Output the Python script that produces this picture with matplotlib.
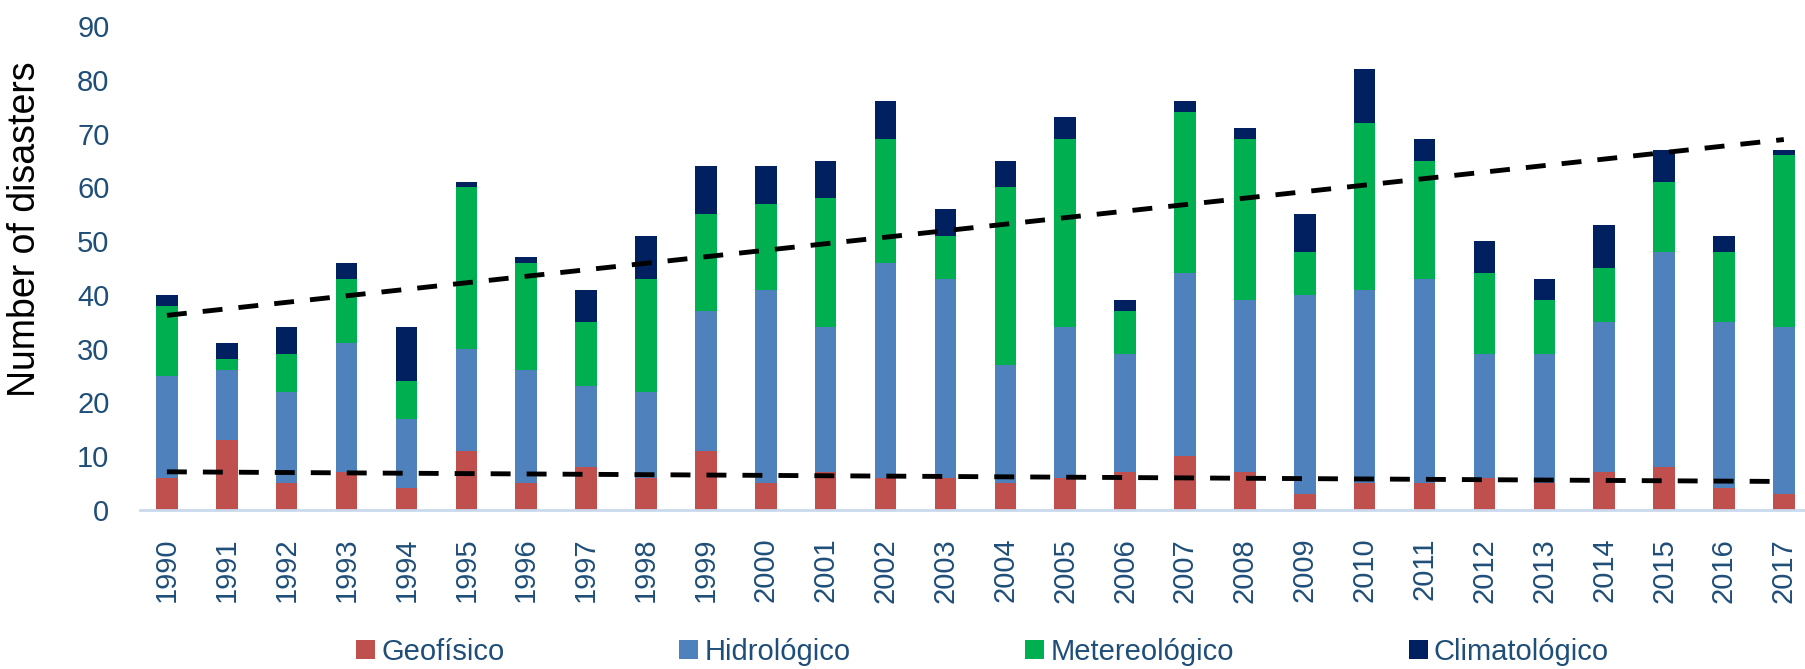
import matplotlib
matplotlib.use("Agg")
import matplotlib.pyplot as plt
import numpy as np

years = [str(y) for y in range(1990, 2018)]
geofisico = [6, 13, 5, 7, 4, 11, 5, 8, 6, 11, 5, 7, 6, 6, 5, 6, 7, 10, 7, 3, 5, 5, 6, 5, 7, 8, 4, 3]
hidrologico = [19, 13, 17, 24, 13, 19, 21, 15, 16, 26, 36, 27, 40, 37, 22, 28, 22, 34, 32, 37, 36, 38, 23, 24, 28, 40, 31, 31]
metereologico = [13, 2, 7, 12, 7, 30, 20, 12, 21, 18, 16, 24, 23, 8, 33, 35, 8, 30, 30, 8, 31, 22, 15, 10, 10, 13, 13, 32]
climatologico = [2, 3, 5, 3, 10, 1, 1, 6, 8, 9, 7, 7, 7, 5, 5, 4, 2, 2, 2, 7, 10, 4, 6, 4, 8, 6, 3, 1]

# trend line values at first and last year
trend_upper = [36.2, 68.9]
trend_lower = [7.1, 5.3]

series = [
    ("Geofísico", geofisico, "#C0504D"),
    ("Hidrológico", hidrologico, "#4F81BD"),
    ("Metereológico", metereologico, "#00B050"),
    ("Climatológico", climatologico, "#002060"),
]

txt_color = "#1F4E79"
plt.rcParams["font.family"] = ["Liberation Sans", "DejaVu Sans"]

fig = plt.figure(figsize=(18.06, 6.69), dpi=100)
ax = fig.add_axes([0.0775, 0.2377, 0.9225, 0.7233])

x = np.arange(len(years))
bottom = np.zeros(len(years))
for name, vals, col in series:
    ax.bar(x, vals, width=0.36, bottom=bottom, color=col, label=name, zorder=2)
    bottom += np.array(vals)

ends = [x[0], x[-1]]
dash = (0, (4.1, 3.3))
ax.plot(ends, trend_upper, color="black", lw=3.5, ls=dash, zorder=3)
ax.plot(ends, trend_lower, color="black", lw=3.5, ls=dash, zorder=3)

ax.set_xlim(-0.45, len(years) - 1 + 0.37)
ax.set_ylim(0, 90)
ax.set_yticks(range(0, 91, 10))
ax.set_xticks(x)
ax.set_xticklabels(years, rotation=90)
ax.tick_params(axis="y", length=0, pad=22, labelsize=21, labelcolor=txt_color)
ax.tick_params(axis="x", length=0, pad=20, labelsize=21, labelcolor=txt_color)

for s in ["top", "right", "left"]:
    ax.spines[s].set_visible(False)
ax.spines["bottom"].set_color("#C9DAEE")
ax.spines["bottom"].set_linewidth(2)

fig.text(25 / 1806, 0.658, "Number of disasters", rotation=90, fontsize=27,
         ha="center", va="center", color="black")

leg = fig.legend(loc="center", bbox_to_anchor=(0.544, 0.026), ncol=4, frameon=False,
                 fontsize=21, handlelength=0.65, handleheight=0.65,
                 handletextpad=0.2, columnspacing=6.0)
for t in leg.get_texts():
    t.set_color(txt_color)

fig.savefig("out.png", dpi=100)
